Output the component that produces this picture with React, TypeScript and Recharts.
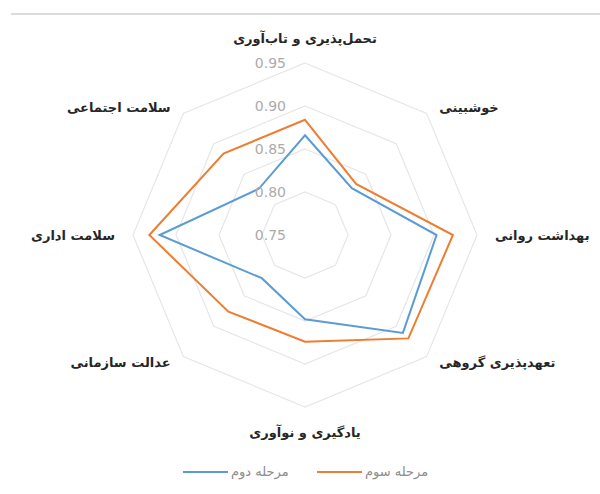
import React from 'react';
import { RadarChart, Radar, PolarGrid, PolarAngleAxis, PolarRadiusAxis, Legend } from 'recharts';

const categories = [
  'تحمل‌پذیری و تاب‌آوری',
  'خوشبینی',
  'بهداشت روانی',
  'تعهدپذیری گروهی',
  'یادگیری و نوآوری',
  'عدالت سازمانی',
  'سلامت اداری',
  'سلامت اجتماعی',
];
const stage2 = [0.866, 0.827, 0.903, 0.911, 0.848, 0.821, 0.919, 0.826];
const stage3 = [0.884, 0.834, 0.922, 0.920, 0.874, 0.876, 0.931, 0.884];
const radiusTicks = [0.75, 0.8, 0.85, 0.9, 0.95];
const seriesNames = ['مرحله دوم', 'مرحله سوم'];

const data = categories.map((c, i) => ({ name: c, s2: stage2[i], s3: stage3[i] }));

const DOMAIN_MIN = 0.75;
const DOMAIN_MAX = 1.0;
const CX = 305;
const CY = 235;
const R = 215; // radius of DOMAIN_MAX; the outer drawn ring (0.95) lands at ~172
const FONT = '"DejaVu Sans", sans-serif';
const BLUE = '#5b9bd5';
const ORANGE = '#ed7d31';
const RAD = Math.PI / 180;

const gridRadii = radiusTicks
  .filter((v) => v > DOMAIN_MIN)
  .map((v) => ((v - DOMAIN_MIN) / (DOMAIN_MAX - DOMAIN_MIN)) * R);

const AngleTick = (props: any) => {
  const { payload, index } = props;
  const angle = typeof payload?.coordinate === 'number' ? payload.coordinate : 90 - index * 45;
  const c = Math.cos(angle * RAD);
  const s = Math.sin(angle * RAD);
  const x = CX + c * 190;
  const y = CY - s * (Math.abs(s) > 0.9 ? 197 : 180);
  const anchor = c > 0.01 ? 'start' : c < -0.01 ? 'end' : 'middle';
  return (
    <text x={x} y={y} textAnchor={anchor} dominantBaseline="central" fontFamily={FONT} fontSize={13} fontWeight="bold" fill="#262626">
      {payload.value}
    </text>
  );
};

const RadiusTick = (props: any) => {
  const { x, y, payload } = props;
  return (
    <text x={x - 19} y={y} textAnchor="end" dominantBaseline="central" fontFamily={FONT} fontSize={14} fill="#ababab">
      {Number(payload.value).toFixed(2)}
    </text>
  );
};

const LegendContent = () => (
  <div style={{ display: 'flex', alignItems: 'center', fontFamily: FONT, fontSize: 13, color: '#8c8c8c', paddingLeft: 183 }}>
    <span style={{ display: 'inline-block', width: 45, height: 2, background: BLUE, marginRight: 3 }} />
    <span style={{ width: 86 }}>{seriesNames[0]}</span>
    <span style={{ display: 'inline-block', width: 45, height: 2, background: ORANGE, marginRight: 3 }} />
    <span>{seriesNames[1]}</span>
  </div>
);

export default function App() {
  return (
    <div style={{ position: 'absolute', left: 0, top: 0, width: 600, height: 494, background: '#fff' }}>
      <div style={{ position: 'absolute', left: 11, top: 13, width: 589, height: 0, borderTop: '2px solid #dcdcdc' }} />
      <RadarChart width={600} height={494} cx={CX} cy={CY} outerRadius={R} data={data} margin={{ top: 0, right: 0, bottom: 0, left: 0 }}>
        <PolarGrid gridType="polygon" stroke="#e6e6e6" strokeWidth={1.2} radialLines={false} polarRadius={gridRadii} />
        <PolarAngleAxis dataKey="name" tick={<AngleTick />} tickLine={false} axisLine={false} />
        <PolarRadiusAxis
          angle={90}
          type="number"
          domain={[DOMAIN_MIN, DOMAIN_MAX]}
          ticks={radiusTicks as any}
          tick={<RadiusTick />}
          axisLine={false}
          tickLine={false}
        />
        <Radar name={seriesNames[0]} dataKey="s2" stroke={BLUE} strokeWidth={2} fill="none" fillOpacity={0} dot={false} isAnimationActive={false} />
        <Radar name={seriesNames[1]} dataKey="s3" stroke={ORANGE} strokeWidth={2} fill="none" fillOpacity={0} dot={false} isAnimationActive={false} />
        <Legend content={<LegendContent />} wrapperStyle={{ position: 'absolute', top: 464, left: 0, width: 600 }} />
      </RadarChart>
    </div>
  );
}
